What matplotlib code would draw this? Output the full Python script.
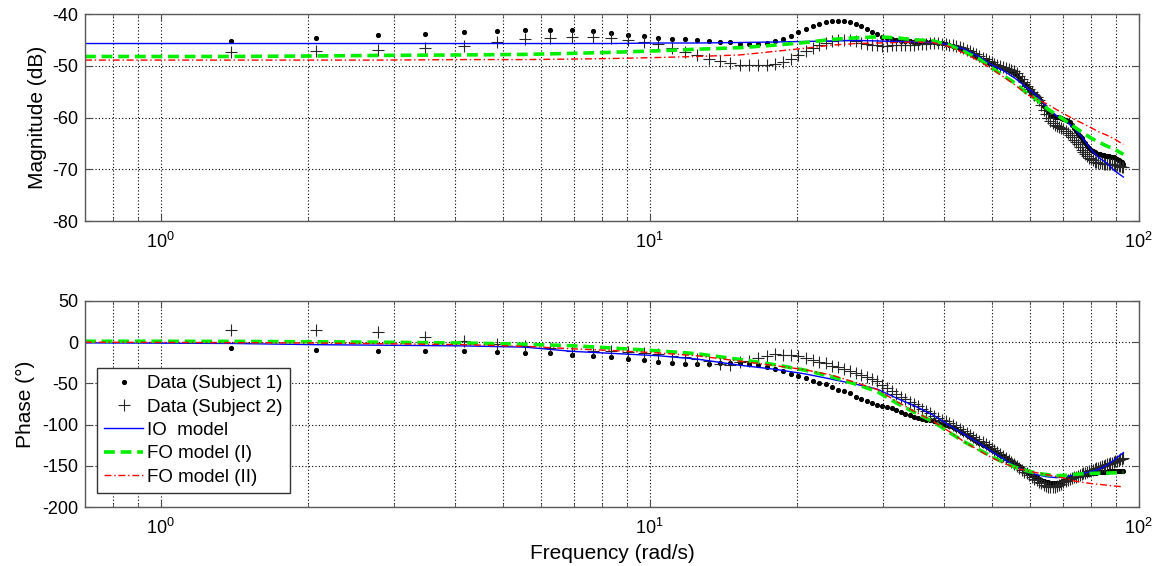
import numpy as np
import matplotlib.pyplot as plt
from matplotlib.ticker import LogLocator, NullFormatter

plt.rcParams['font.family'] = ['Liberation Sans', 'DejaVu Sans']
plt.rcParams['axes.unicode_minus'] = False
plt.rcParams['mathtext.default'] = 'regular'

# -----------------------------
# measured data (harmonic frequencies, rad/s)
# -----------------------------
freq_data = [
    1.39, 2.08, 2.78, 3.47, 4.17, 4.86, 5.56, 6.25, 6.94, 7.64,
    8.33, 9.03, 9.72, 10.42, 11.11, 11.81, 12.50, 13.19, 13.89, 14.58,
    15.28, 15.97, 16.67, 17.36, 18.05, 18.75, 19.44, 20.14, 20.83, 21.53,
    22.22, 22.92, 23.61, 24.30, 25.00, 25.69, 26.39, 27.08, 27.78, 28.47,
    29.16, 29.86, 30.55, 31.25, 31.94, 32.64, 33.33, 34.03, 34.72, 35.41,
    36.11, 36.80, 37.50, 38.19, 38.89, 39.58, 40.28, 40.97, 41.66, 42.36,
    43.05, 43.75, 44.44, 45.14, 45.83, 46.52, 47.22, 47.91, 48.61, 49.30,
    50.00, 50.69, 51.39, 52.08, 52.77, 53.47, 54.16, 54.86, 55.55, 56.25,
    56.94, 57.64, 58.33, 59.02, 59.72, 60.41, 61.11, 61.80, 62.50, 63.19,
    63.88, 64.58, 65.27, 65.97, 66.66, 67.36, 68.05, 68.75, 69.44, 70.13,
    70.83, 71.52, 72.22, 72.91, 73.61, 74.30, 75.00, 75.69, 76.38, 77.08,
    77.77, 78.47, 79.16, 79.86, 80.55, 81.24, 81.94, 82.63, 83.33, 84.02,
    84.72, 85.41, 86.10, 86.80, 87.49, 88.19, 88.88, 89.58, 90.27, 90.97,
    91.66, 92.36, 93.05]

mag_s1 = [
    -45.2, -44.6, -44.1, -43.8, -43.5, -43.3, -43.1, -43.0, -43.0, -43.3,
    -43.7, -44.0, -44.3, -44.6, -44.8, -44.9, -45.1, -45.3, -45.4, -45.5,
    -45.7, -45.8, -45.7, -45.6, -45.3, -44.9, -44.2, -43.4, -42.8, -42.3,
    -41.9, -41.6, -41.4, -41.3, -41.3, -41.6, -42.0, -42.4, -42.9, -43.4,
    -43.9, -44.4, -44.7, -44.9, -45.1, -45.2, -45.3, -45.3, -45.4, -45.4,
    -45.4, -45.5, -45.5, -45.5, -45.6, -45.6, -45.7, -45.9, -46.1, -46.3,
    -46.6, -46.9, -47.2, -47.5, -47.8, -48.1, -48.4, -48.8, -49.1, -49.4,
    -49.7, -49.9, -50.1, -50.3, -50.5, -50.7, -50.9, -51.1, -51.4, -51.8,
    -52.3, -52.9, -53.5, -54.0, -54.5, -55.0, -55.4, -55.8, -56.2, -56.9,
    -57.7, -58.4, -59.0, -59.5, -59.8, -59.9, -59.9, -59.9, -60.0, -60.2,
    -60.4, -60.6, -60.9, -61.4, -62.0, -62.6, -63.1, -63.5, -64.0, -64.5,
    -65.0, -65.5, -65.9, -66.2, -66.5, -66.7, -66.9, -67.0, -67.1, -67.2,
    -67.3, -67.4, -67.5, -67.5, -67.6, -67.6, -67.7, -67.8, -68.0, -68.2,
    -68.4, -68.6, -68.9]

mag_s2 = [
    -47.4, -47.2, -47.0, -46.6, -46.1, -45.4, -44.9, -44.6, -44.4, -44.4,
    -44.6, -45.0, -45.4, -45.8, -46.5, -47.3, -47.9, -48.6, -49.1, -49.5,
    -49.8, -49.9, -49.9, -49.9, -49.7, -49.2, -48.6, -47.9, -47.2, -46.5,
    -46.0, -45.6, -45.3, -45.1, -45.0, -45.1, -45.3, -45.6, -45.8, -46.0,
    -46.0, -46.1, -46.1, -46.0, -46.0, -46.0, -46.0, -45.9, -45.9, -45.8,
    -45.7, -45.7, -45.6, -45.6, -45.6, -45.7, -45.8, -45.9, -46.0, -46.1,
    -46.3, -46.6, -46.9, -47.2, -47.5, -47.8, -48.1, -48.4, -48.7, -49.0,
    -49.3, -49.6, -49.8, -50.1, -50.3, -50.5, -50.7, -50.9, -51.1, -51.4,
    -51.9, -52.5, -53.2, -53.9, -54.5, -55.1, -55.6, -56.1, -56.6, -57.5,
    -58.5, -59.4, -60.1, -60.7, -61.1, -61.4, -61.6, -61.8, -62.0, -62.3,
    -62.6, -62.9, -63.3, -63.8, -64.3, -64.8, -65.2, -65.7, -66.2, -66.7,
    -67.1, -67.5, -67.8, -68.1, -68.3, -68.5, -68.6, -68.7, -68.8, -68.8,
    -68.9, -68.9, -68.9, -68.9, -69.0, -69.0, -69.1, -69.1, -69.2, -69.3,
    -69.4, -69.5, -69.6]

phase_s1 = [
    -6.9, -8.9, -10.1, -10.3, -11.0, -12.3, -12.8, -13.7, -15.2, -17.2,
    -18.5, -20.5, -21.7, -24.6, -25.8, -26.7, -26.7, -26.7, -25.8, -25.8,
    -25.8, -26.7, -27.9, -29.5, -32.8, -34.9, -38.1, -41.0, -43.9, -47.2,
    -49.3, -51.3, -54.5, -57.4, -59.5, -62.0, -66.0, -69.5, -71.8, -74.0,
    -75.8, -77.5, -79.0, -80.4, -82.7, -84.9, -86.7, -88.5, -90.2, -91.8,
    -93.0, -94.0, -95.0, -96.0, -97.5, -99.0, -100.5, -102.0, -103.5, -105.5,
    -107.5, -110.0, -112.5, -115.0, -117.5, -120.0, -122.5, -124.5, -126.5, -128.5,
    -130.5, -132.5, -134.5, -136.5, -138.5, -140.5, -142.5, -144.5, -146.5, -148.5,
    -150.5, -152.8, -155.0, -157.0, -159.0, -160.8, -162.5, -164.0, -165.5, -167.0,
    -168.2, -169.2, -170.0, -170.7, -171.2, -171.4, -171.2, -170.5, -169.3, -168.0,
    -166.8, -165.7, -164.7, -163.8, -163.0, -162.3, -161.6, -161.1, -160.7, -160.4,
    -160.1, -159.8, -159.5, -159.2, -158.9, -158.7, -158.4, -158.1, -157.8, -157.6,
    -157.4, -157.2, -157.0, -156.8, -156.6, -156.4, -156.3, -156.2, -156.1, -156.1,
    -156.2, -156.4, -156.7]

phase_s2 = [
    15.4, 15.4, 12.5, 6.5, 1.2, -1.8, -4.5, -7.5, -10.2, -10.6,
    -11.1, -12.3, -13.5, -14.4, -16.4, -18.5, -20.5, -22.6, -26.0, -27.5,
    -24.6, -22.6, -19.3, -16.4, -14.4, -15.0, -15.8, -17.0, -19.3, -22.0,
    -24.0, -25.8, -28.3, -30.5, -32.8, -35.0, -37.5, -40.0, -42.5, -45.0,
    -47.5, -52.5, -56.0, -59.5, -63.0, -66.0, -69.0, -72.0, -75.0, -78.0,
    -81.0, -84.0, -86.5, -89.0, -91.5, -93.8, -96.0, -98.2, -100.5, -102.8,
    -105.0, -107.5, -109.8, -112.2, -114.6, -117.0, -119.3, -121.6, -124.0, -126.3,
    -128.5, -131.0, -133.5, -136.0, -138.3, -140.8, -143.3, -145.6, -148.0, -150.3,
    -152.5, -154.8, -157.0, -159.3, -161.5, -163.5, -165.7, -167.8, -169.5, -171.2,
    -172.7, -174.0, -175.2, -176.0, -176.3, -176.0, -175.0, -173.5, -171.8, -170.0,
    -168.5, -167.3, -166.2, -165.1, -164.0, -163.0, -162.0, -161.0, -160.1, -159.2,
    -158.3, -157.4, -156.5, -155.6, -154.8, -154.0, -153.2, -152.4, -151.6, -150.8,
    -150.0, -149.2, -148.4, -147.6, -146.8, -146.0, -145.2, -144.4, -143.6, -142.8,
    -142.0, -141.2, -140.4]

# -----------------------------
# fitted models
# -----------------------------
freq_model = [0.7, 1.39, 2.08, 2.78, 4.17, 5.56, 6.94, 8.33, 10.4, 12.5,
              15.3, 18.1, 20.8, 23.6, 26.4, 29.2, 32.0, 35.0, 38.0, 41.0,
              44.0, 47.0, 50.0, 53.0, 56.0, 59.0, 62.0, 65.0, 68.0, 71.0,
              74.0, 77.0, 80.0, 83.0, 86.0, 89.0, 93.0]

mag_io = [-45.7, -45.7, -45.7, -45.7, -45.7, -45.7, -45.7, -45.7, -45.6, -45.6,
          -45.5, -45.4, -45.3, -45.2, -45.1, -45.2, -45.3, -45.4, -45.5, -45.9,
          -46.8, -48.2, -49.8, -51.0, -52.5, -54.2, -55.8, -58.1, -59.7, -60.7,
          -62.2, -64.1, -66.3, -67.8, -68.8, -70.2, -71.5]
mag_fo1 = [-48.2, -48.2, -48.1, -48.0, -47.9, -47.8, -47.6, -47.4, -47.1, -46.8,
           -46.5, -46.0, -45.5, -44.9, -44.6, -44.4, -44.6, -45.0, -45.2, -46.0,
           -47.3, -48.6, -50.4, -52.0, -53.4, -55.3, -56.6, -58.3, -59.5, -60.7,
           -61.9, -63.0, -64.0, -64.8, -65.5, -66.1, -67.1]
mag_fo2 = [-48.9, -48.9, -48.9, -48.9, -48.8, -48.8, -48.7, -48.6, -48.4, -48.2,
           -47.9, -47.2, -46.6, -46.0, -45.7, -45.6, -45.5, -45.4, -45.5, -46.3,
           -47.6, -49.0, -50.6, -52.2, -53.8, -55.5, -56.5, -57.4, -58.5, -59.5,
           -60.4, -61.2, -62.0, -62.8, -63.4, -64.1, -65.2]

phase_io = [-0.8, -1.5, -3.0, -3.6, -4.5, -6.0, -11.1, -13.5, -16.4, -20.5,
            -28.0, -33.0, -38.5, -45.0, -51.0, -57.0, -68.0, -78.0, -88.5, -101.0,
            -112.0, -122.0, -132.5, -142.0, -151.0, -157.0, -161.0, -163.3, -164.4, -163.0,
            -161.0, -159.0, -157.0, -154.0, -149.5, -143.0, -134.0]
phase_fo1 = [1.2, 1.0, 0.5, 0.0, -1.0, -2.5, -4.3, -7.0, -10.5, -14.0,
             -21.0, -27.5, -34.0, -42.0, -51.0, -60.0, -74.0, -86.0, -96.5, -109.5,
             -121.0, -130.0, -138.7, -146.0, -152.0, -156.0, -159.0, -160.8, -162.0, -161.5,
             -160.3, -159.7, -159.2, -159.0, -158.8, -158.5, -158.0]
phase_fo2 = [0.0, -0.5, -1.0, -1.8, -3.0, -5.0, -8.0, -10.0, -13.0, -16.5,
             -23.0, -28.5, -33.5, -40.0, -49.0, -57.5, -72.0, -85.0, -96.0, -108.5,
             -121.0, -131.0, -140.0, -147.0, -152.5, -156.0, -158.5, -160.8, -163.0, -165.5,
             -168.5, -170.3, -171.5, -172.5, -173.5, -174.5, -175.5]

labels = ['Data (Subject 1)', 'Data (Subject 2)', 'IO  model', 'FO model (I)', 'FO model (II)']


def style_axes(ax, ylim, yticks):
    ax.set_xscale('log')
    ax.set_xlim(0.7, 100)
    ax.set_ylim(*ylim)
    ax.set_yticks(yticks)
    ax.xaxis.set_minor_locator(LogLocator(base=10, subs=np.arange(2, 10)))
    ax.xaxis.set_minor_formatter(NullFormatter())
    gstyle = dict(color='k', ls=(0, (1, 2)), lw=0.8)
    ax.grid(True, which='major', **gstyle)
    ax.grid(True, which='minor', axis='x', **gstyle)
    ax.set_axisbelow(True)
    ax.tick_params(which='both', direction='in', top=True, right=True,
                   labelsize=13, color='0.3')
    ax.tick_params(axis='x', which='major', pad=8)
    ax.tick_params(axis='y', which='major', pad=5)
    ax.tick_params(which='major', length=5)
    ax.tick_params(which='minor', length=3)
    for s in ax.spines.values():
        s.set_color('0.35')
        s.set_linewidth(1.0)


def draw(ax, y1, y2, yio, yfo1, yfo2):
    ax.plot(freq_data, y1, ls='none', marker='o', ms=2.7, color='k', mec='k',
            label=labels[0])
    ax.plot(freq_data, y2, ls='none', marker='+', ms=8, mew=0.8, color='0.15',
            label=labels[1])
    ax.plot(freq_model, yio, color='#0000ff', lw=1.0, label=labels[2])
    ax.plot(freq_model, yfo1, color='#00ee00', lw=2.6, dashes=(3, 1.6),
            label=labels[3])
    ax.plot(freq_model, yfo2, color='#ff0000', lw=1.0, dashes=(5, 2, 1, 2),
            label=labels[4])


fig = plt.figure(figsize=(11.58, 5.66), dpi=100)
ax1 = fig.add_axes([0.0734, 0.6095, 0.910, 0.3657])
ax2 = fig.add_axes([0.0734, 0.1042, 0.910, 0.364])

draw(ax1, mag_s1, mag_s2, mag_io, mag_fo1, mag_fo2)
style_axes(ax1, (-80, -40), [-80, -70, -60, -50, -40])
ax1.set_ylabel('Magnitude (dB)', fontsize=15)
ax1.yaxis.set_label_coords(-0.036, 0.5)

draw(ax2, phase_s1, phase_s2, phase_io, phase_fo1, phase_fo2)
style_axes(ax2, (-200, 50), [-200, -150, -100, -50, 0, 50])
ax2.set_ylabel('Phase (°)', fontsize=15)
ax2.yaxis.set_label_coords(-0.047, 0.5)
ax2.set_xlabel('Frequency (rad/s)', fontsize=15)

leg = ax2.legend(loc='lower left', bbox_to_anchor=(0.011, 0.068), borderaxespad=0,
                 fancybox=False, edgecolor='0.2', framealpha=1, fontsize=13.5,
                 handlelength=2.1, handletextpad=0.2, labelspacing=0.33,
                 borderpad=0.4, markerscale=1.0)
leg.get_frame().set_linewidth(1.0)

fig.savefig('out.png', dpi=100, facecolor='white')
